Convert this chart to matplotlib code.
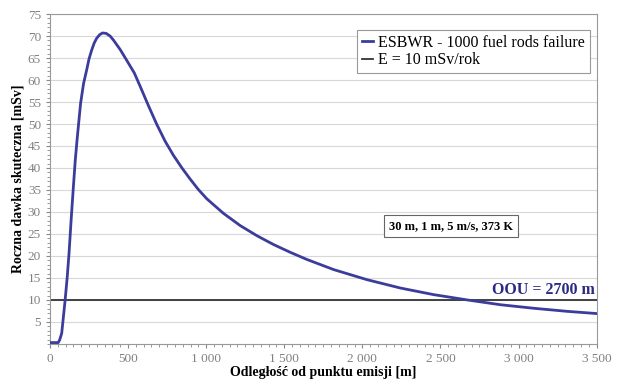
import matplotlib
matplotlib.use("Agg")
import matplotlib.pyplot as plt
import numpy as np
from matplotlib.ticker import MultipleLocator, FuncFormatter

plt.rcParams['font.family'] = ['Liberation Serif', 'DejaVu Serif']

distance_m = [0, 30, 53, 62, 75, 96, 110, 122, 136, 150, 162, 175, 196, 215, 235, 250,
              267, 283, 299, 318, 336, 360, 385, 406, 450, 491, 540, 577, 630, 684,
              737, 790, 845, 897, 950, 1004, 1110, 1218, 1325, 1431, 1540, 1645,
              1816, 2030, 2244, 2457, 2671, 2885, 3098, 3312, 3500]
dose_msv = [0.3, 0.3, 0.3, 0.9, 2.4, 9.6, 15.0, 20.6, 28.5, 35.8, 41.8, 47.0, 54.7,
            59.2, 62.3, 64.8, 66.8, 68.4, 69.5, 70.3, 70.7, 70.6, 70.0, 69.1, 66.9,
            64.5, 61.6, 58.6, 54.2, 49.9, 46.1, 42.9, 40.0, 37.5, 35.1, 33.0, 29.7,
            26.9, 24.6, 22.6, 20.8, 19.2, 16.9, 14.6, 12.7, 11.2, 10.0, 8.9, 8.1,
            7.4, 6.9]
limit_msv = 10
series_label = "ESBWR - 1000 fuel rods failure"
limit_label = "E = 10 mSv/rok"
x_ticks = [0, 500, 1000, 1500, 2000, 2500, 3000, 3500]
y_ticks = [5, 10, 15, 20, 25, 30, 35, 40, 45, 50, 55, 60, 65, 70, 75]

fig = plt.figure(figsize=(6.17, 3.8), dpi=100)
ax = fig.add_axes([0.081, 0.095, 0.886, 0.868])

ax.plot(distance_m, dose_msv, color='#3c3c9c', lw=2.0, label=series_label, zorder=3,
        solid_joinstyle='round')
ax.axhline(limit_msv, color='#333333', lw=1.3, label=limit_label, zorder=2)

ax.set_xlim(0, 3500)
ax.set_ylim(0, 75)
ax.set_xticks(x_ticks)
ax.set_yticks(y_ticks)
ax.xaxis.set_minor_locator(MultipleLocator(50))
ax.yaxis.set_minor_locator(MultipleLocator(1))
ax.xaxis.set_major_formatter(FuncFormatter(lambda v, p: f"{int(v):,}".replace(",", " ")))
ax.grid(axis='y', color='#d8d8d8', lw=0.8)
ax.tick_params(axis='both', labelsize=9.5, labelcolor='#808080', color='#888888', length=3)
ax.tick_params(which='minor', length=2, color='#888888')
for s in ax.spines.values():
    s.set_color('#999999')

ax.set_xlabel("Odległość od punktu emisji [m]", fontsize=10, fontweight='bold', labelpad=1)
ax.set_ylabel("Roczna dawka skuteczna [mSv]", fontsize=10, fontweight='bold', labelpad=2)

leg = ax.legend(loc='upper right', bbox_to_anchor=(0.987, 0.952), borderaxespad=0,
                fontsize=11.5, handlelength=0.7, handletextpad=0.3, borderpad=0.3,
                labelspacing=0.1, fancybox=False, edgecolor='#999999', framealpha=1)
leg.get_frame().set_linewidth(0.8)

ax.text(2570, 26.8, "30 m, 1 m, 5 m/s, 373 K", fontsize=9, fontweight='bold', ha='center',
        va='center', bbox=dict(boxstyle='square,pad=0.4', fc='white', ec='#666666', lw=0.8))
ax.text(3490, 10.5, "OOU = 2700 m", fontsize=11.5, fontweight='bold', color='#2a2a80',
        ha='right', va='bottom')

fig.savefig("out.png", dpi=100)
